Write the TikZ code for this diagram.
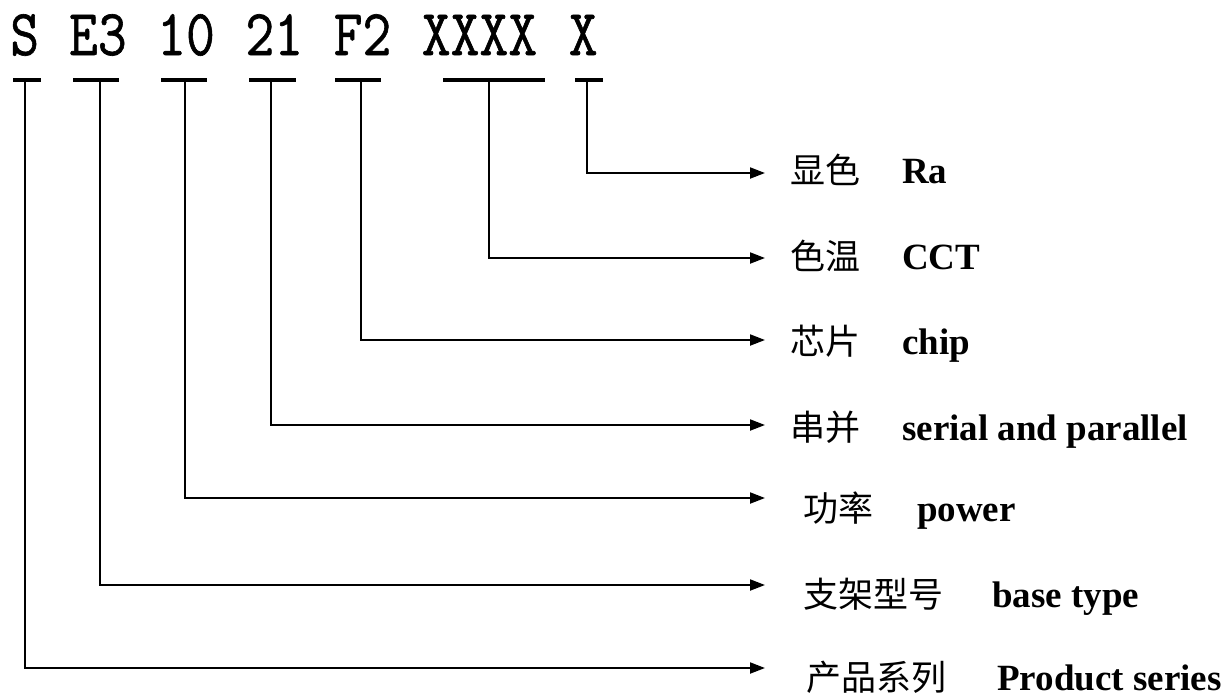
\documentclass[tikz,border=0pt]{standalone}
\usepackage{fontspec}
\setmainfont{Liberation Serif}
\newfontfamily\codefont{Latin Modern Mono}[FakeBold=1]
\newfontfamily\cjk{Noto Sans CJK SC}
\usetikzlibrary{arrows.meta}
\begin{document}
\begin{tikzpicture}[x=1pt,y=-1pt,
  code/.style={anchor=base west, inner sep=0pt, font=\fontsize{56}{60}\selectfont\codefont},
  bar/.style={fill=black, inner sep=0pt, minimum height=4pt},
  conn/.style={line width=2pt, -{Triangle[length=15pt,width=11pt]}},
  lab/.style={anchor=base west, inner sep=0pt, font=\fontsize{37}{40}\selectfont}]
\useasboundingbox (0,0) rectangle (1226,697);
% code groups
\node[code] (g1) at (10,55) {\scalebox{1}[1.17]{S}};
\node[code] (g2) at (68.8,55) {\scalebox{1}[1.17]{E3}};
\node[code] (g3) at (157,55) {\scalebox{1}[1.17]{10}};
\node[code] (g4) at (245.2,55) {\scalebox{1}[1.17]{21}};
\node[code] (g5) at (333.4,55) {\scalebox{1}[1.17]{F2}};
\node[code] (g6) at (421.6,55) {\scalebox{1}[1.17]{XXXX}};
\node[code] (g7) at (568.6,55) {\scalebox{1}[1.17]{X}};
% bars
\node[bar, minimum width=28pt] (b1) at (27,80) {};
\node[bar, minimum width=46pt] (b2) at (96,80) {};
\node[bar, minimum width=46pt] (b3) at (184,80) {};
\node[bar, minimum width=47pt] (b4) at (272.5,80) {};
\node[bar, minimum width=46pt] (b5) at (358,80) {};
\node[bar, minimum width=102pt] (b6) at (494,80) {};
\node[bar, minimum width=28pt] (b7) at (589,80) {};
% arrow ends
\coordinate (a1) at (765,173);
\coordinate (a2) at (765,258);
\coordinate (a3) at (765,340);
\coordinate (a4) at (765,425);
\coordinate (a5) at (765,498);
\coordinate (a6) at (765,585);
\coordinate (a7) at (765,668);
% connectors
\draw[conn] ([xshift=-2pt]b7.south) |- (a1);
\draw[conn] ([xshift=-5pt]b6.south) |- (a2);
\draw[conn] ([xshift=3pt]b5.south) |- (a3);
\draw[conn] ([xshift=-1.5pt]b4.south) |- (a4);
\draw[conn] ([xshift=1pt]b3.south) |- (a5);
\draw[conn] ([xshift=4pt]b2.south) |- (a6);
\draw[conn] ([xshift=-2pt]b1.south) |- (a7);
% labels
\node[lab] (l1) at (790,183) {{\cjk\fontsize{35}{40}\selectfont 显色}\hspace{42pt}\textbf{Ra}};
\node[lab] (l2) at (790,269) {{\cjk\fontsize{35}{40}\selectfont 色温}\hspace{42pt}\textbf{CCT}};
\node[lab] (l3) at (790,354) {{\cjk\fontsize{35}{40}\selectfont 芯片}\hspace{42pt}\textbf{chip}};
\node[lab] (l4) at (790,440) {{\cjk\fontsize{35}{40}\selectfont 串并}\hspace{42pt}\textbf{serial and parallel}};
\node[lab] (l5) at (803,521) {{\cjk\fontsize{35}{40}\selectfont 功率}\hspace{44pt}\textbf{power}};
\node[lab] (l6) at (803,607) {{\cjk\fontsize{35}{40}\selectfont 支架型号}\hspace{49pt}\textbf{base type}};
\node[lab] (l7) at (806,690) {{\cjk\fontsize{35}{40}\selectfont 产品系列}\hspace{51pt}\textbf{Product series}};
\end{tikzpicture}
\end{document}
